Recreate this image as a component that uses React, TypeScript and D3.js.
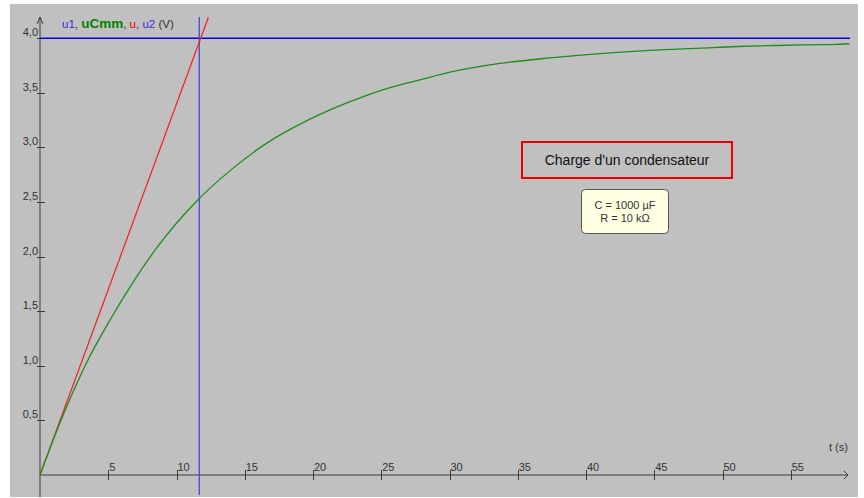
import React from 'react';
import * as d3 from 'd3';

const tValues = [0, 1.47, 3.66, 5.13, 8.55, 11.65, 13.19, 16.61, 19.78, 22.71, 25.4, 27.84, 30.04, 33.7, 37.36, 41.03, 44.69, 48.35, 51.1, 53.26, 55.9, 58.4, 59.3];
const uCmmValues = [0, 0.48, 1.09, 1.42, 2.08, 2.53, 2.71, 3.04, 3.26, 3.42, 3.54, 3.62, 3.69, 3.77, 3.82, 3.86, 3.89, 3.91, 3.925, 3.932, 3.94, 3.945, 3.95];

// tangent at origin (u) and the asymptote / time constant markers (u1, u2)
const tangentT = [0, 12.33];
const tangentU = [0, 4.19];
const asymptoteU = 4.0;
const tauT = 11.67;

const xTicks = [5, 10, 15, 20, 25, 30, 35, 40, 45, 50, 55];
const yTicks = [0.5, 1.0, 1.5, 2.0, 2.5, 3.0, 3.5, 4.0];
const yTickLabels = ['0,5', '1,0', '1,5', '2,0', '2,5', '3,0', '3,5', '4,0'];

const title = "Charge d'un condensateur";
const paramLines = ['C = 1000 µF', 'R = 10 kΩ'];

const FONT = 'Liberation Sans, Arial, sans-serif';

const App = () => {
  const width = 864;
  const height = 498;

  const x = d3.scaleLinear().domain([0, 60]).range([40, 859]);
  const y = d3.scaleLinear().domain([0, 4]).range([475, 38.3]);

  const x0 = x(0);
  const y0 = y(0);

  const curve = d3.line<[number, number]>()
    .x(d => x(d[0]))
    .y(d => y(d[1]))
    .curve(d3.curveMonotoneX)(tValues.map((t, i) => [t, uCmmValues[i]]));
  const tangent = d3.line<[number, number]>()
    .x(d => x(d[0]))
    .y(d => y(d[1]))(tangentT.map((t, i) => [t, tangentU[i]]));

  const axisColor = '#3c3c3c';

  return (
    <svg width={width} height={height} style={{ position: 'absolute', left: 0, top: 0, background: '#fff' }} fontFamily={FONT}>
      <rect x={10} y={4} width={848} height={493} fill="#c0c0c0" />

      {/* axes */}
      <line x1={x0} y1={17} x2={x0} y2={497} stroke={axisColor} />
      <polyline points={`${x0 - 3},24 ${x0},17 ${x0 + 3},24`} fill="none" stroke={axisColor} />
      <line x1={x0} y1={y0} x2={848} y2={y0} stroke={axisColor} />
      <polyline points={`844,${y0 - 4} 848,${y0} 844,${y0 + 4}`} fill="none" stroke={axisColor} />

      {xTicks.map(t => (
        <g key={`xt${t}`}>
          <line x1={Math.round(x(t)) + 0.5} x2={Math.round(x(t)) + 0.5} y1={470} y2={480} stroke={axisColor} />
          <text x={x(t) + 1} y={471} fontSize={11} fill="#333">{t}</text>
        </g>
      ))}
      {yTicks.map((v, i) => (
        <g key={`yt${v}`}>
          <line x1={x0 - 3} x2={x0 + 5} y1={Math.round(y(v)) + 0.5} y2={Math.round(y(v)) + 0.5} stroke={axisColor} />
          <text x={x0 - 2} y={y(v) - 2} fontSize={11} fill="#333" textAnchor="end">{yTickLabels[i]}</text>
        </g>
      ))}
      <text x={829} y={451} fontSize={11} fill="#333">t (s)</text>

      {/* legend */}
      <text x={62} y={28} fontSize={11.5} fill="#333">
        <tspan fill="#3030d0">u1</tspan>
        <tspan>, </tspan>
        <tspan fill="#008000" fontWeight="bold" fontSize={13.5}>uCmm</tspan>
        <tspan>, </tspan>
        <tspan fill="#e00000">u</tspan>
        <tspan>, </tspan>
        <tspan fill="#3030d0">u2</tspan>
        <tspan> (V)</tspan>
      </text>

      {/* asymptote and time constant */}
      <line x1={x0} x2={850} y1={y(asymptoteU)} y2={y(asymptoteU)} stroke="#0000ff" strokeWidth={1.5} />
      <line x1={x(tauT)} x2={x(tauT)} y1={17} y2={495} stroke="#4848d8" strokeWidth={1.3} />

      {/* tangent and measured curve */}
      <path d={tangent || ''} fill="none" stroke="#f02020" strokeWidth={1.2} />
      <path d={curve || ''} fill="none" stroke="#1e8c1e" strokeWidth={1.3} />

      {/* title box */}
      <rect x={522} y={142} width={210} height={36} fill="none" stroke="#ee0000" strokeWidth={2} />
      <text x={627} y={165} fontSize={14} fill="#111" textAnchor="middle">{title}</text>

      {/* parameters */}
      <rect x={581.5} y={189.5} width={87} height={44} rx={4} fill="#ffffe1" stroke="#555" />
      {paramLines.map((s, i) => (
        <text key={s} x={625} y={209 + i * 13} fontSize={11} fill="#333" textAnchor="middle">{s}</text>
      ))}
    </svg>
  );
};

export default App;
